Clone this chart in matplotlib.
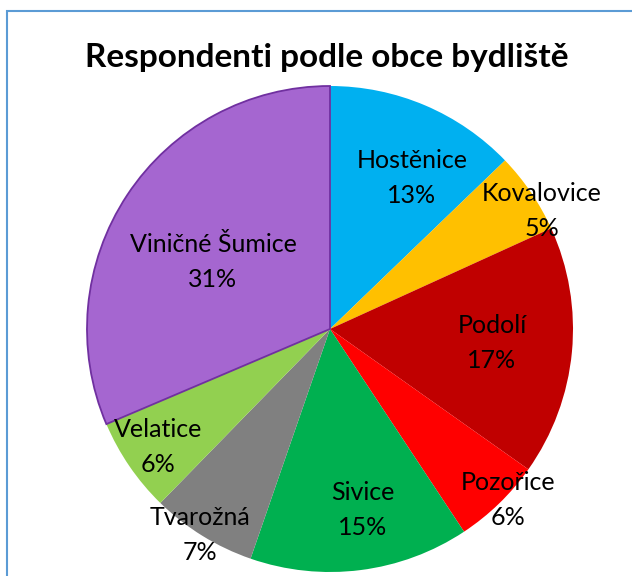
import numpy as np
import matplotlib
matplotlib.use("Agg")
import matplotlib.pyplot as plt
from matplotlib.patches import Rectangle

categories = ["Hostěnice", "Kovalovice", "Podolí", "Pozořice", "Sivice",
              "Tvarožná", "Velatice", "Viničné Šumice"]
values = [12.8, 5.4, 16.6, 5.9, 14.6, 7.0, 6.3, 31.4]
colors = ["#00B0F0", "#FFC000", "#C00000", "#FF0000", "#00B050",
          "#808080", "#92D050", "#A566D0"]
label_radius = [0.707, 0.998, 0.669, 1.016, 0.757, 1.0025, 0.858, 0.555]
label_shift = [5.46, 5.1, -0.46, -2.05, -3.1, 0.57, -0.07, -3.68]  # degrees
title = "Respondenti podle obce bydliště"

W, H, dpi = 632, 576, 100
fig = plt.figure(figsize=(W / dpi, H / dpi), dpi=dpi)
fig.patch.set_facecolor("white")
ax = fig.add_axes([0, 0, 1, 1])

cx, cy, R = 330, 329, 243  # pixels
wedges, _ = ax.pie(values, colors=colors, startangle=90, counterclock=False,
                   radius=1.0, center=(0, 0),
                   wedgeprops=dict(linewidth=0))
wedges[-1].set_edgecolor("#7030A0")
wedges[-1].set_linewidth(1.3)

ax.set_aspect("auto")
ax.set_xlim((0 - cx) / R, (W - cx) / R)
ax.set_ylim(-(H - cy) / R, cy / R)
ax.axis("off")

font = "Lato"
total = sum(values)
for w, name, v, r, s in zip(wedges, categories, values, label_radius, label_shift):
    ang = np.deg2rad((w.theta1 + w.theta2) / 2 - s)
    x, y = r * np.cos(ang), r * np.sin(ang)
    ax.text(x, y, f"{name}\n{round(100 * v / total)}%", ha="center", va="center",
            fontsize=18, family=font, color="black", linespacing=1.65)

fig.text(327 / W, 1 - 58 / H, title, ha="center", va="center",
         fontsize=24, fontweight="bold", family=font, color="black")

fig.patches.append(Rectangle((7 / W, -0.1), 1.2, 1 - 11 / H + 0.1,
                             transform=fig.transFigure, fill=False,
                             edgecolor="#5B9BD5", linewidth=1.5))

fig.savefig("out.png", dpi=dpi)
